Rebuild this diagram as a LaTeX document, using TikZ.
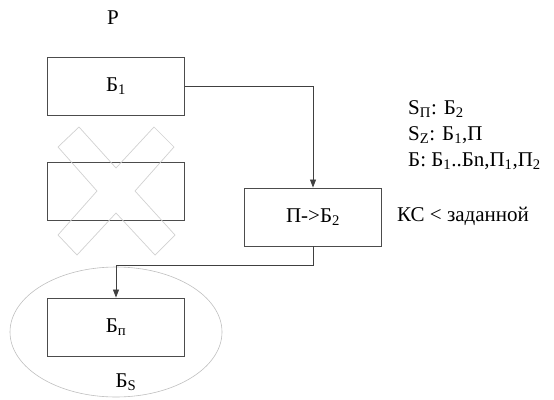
\documentclass[tikz,border=0pt]{standalone}
\usepackage{fontspec}
\setmainfont{Liberation Serif}
\usetikzlibrary{arrows.meta}
\tikzset{
  blok/.style={draw=black!70, line width=0.9pt, minimum width=137pt, minimum height=58pt, inner sep=0pt},
  pfeil/.style={draw=black!75, line width=0.8pt, -{Triangle[width=6pt,length=8pt]}},
  notiz/.style={anchor=west, inner sep=0pt}
}
\begin{document}
\begin{tikzpicture}[x=1pt, y=-1pt, every node/.style={font=\fontsize{21}{24}\selectfont}]
  \useasboundingbox (0,0) rectangle (554,399);
  % Bereich B_S
  \draw[black!25, line width=0.6pt] (116,332) ellipse (106 and 65);
  % Bloecke
  \node (titel) at (113,18) {Р};
  \node[blok] (b1) at (116,86) {Б\textsubscript{1}};
  \node[blok] (bx) at (116,191) {};
  \node[blok] (pb) at (313,217) {П->Б\textsubscript{2}};
  \node[blok] (bn) at (116,327) {Б\textsubscript{п}};
  \node (bs) at (126,382) {Б\textsubscript{S}};
  % Kreuz ueber dem geloeschten Block
  \draw[black!18, line width=0.7pt] (79,127) -- (116,168) -- (154,127) -- (174,147) -- (135,191)
    -- (175,235) -- (155,255) -- (116,213) -- (77,255) -- (58,235) -- (97,191) -- (58,147) -- cycle;
  % Verbindungen
  \draw[pfeil] (b1.east) -| (pb.north);
  \coordinate (knick) at (pb.south |- 0,265);
  \draw[pfeil] (pb.south) -- (knick) -| (bn.north);
  % Mengen
  \node[notiz] (sp) at (408,109) {S\textsubscript{П}: Б\textsubscript{2}};
  \node[notiz] (sz) at (408,135) {S\textsubscript{Z}: Б\textsubscript{1},П};
  \node[notiz] (bm) at (408,161) {Б: Б\textsubscript{1}..Бn,П\textsubscript{1},П\textsubscript{2}};
  \node[notiz] (ks) at (397,216) {КС < заданной};
\end{tikzpicture}
\end{document}
